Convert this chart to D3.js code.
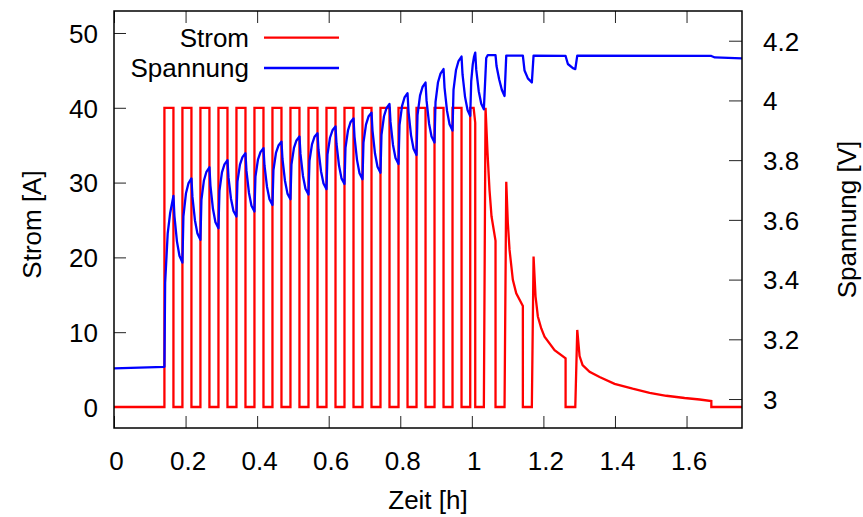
<!DOCTYPE html>
<html lang="de">
<head>
  <meta charset="UTF-8">
  <title>Strom / Spannung</title>
  <script src="https://d3js.org/d3.v7.min.js"></script>
  <style>
    body { margin: 0; background: #fff; }
    text { font-family: "Liberation Sans", Arial, sans-serif; fill: #000; }
  </style>
</head>
<body>
  <script>
    "use strict";
    // --- data ---
    // time in hours, current in A, voltage in V
    const xTicks = [0, 0.2, 0.4, 0.6, 0.8, 1, 1.2, 1.4, 1.6];
    const stromTicks = [0, 10, 20, 30, 40, 50];
    const spannungTicks = [3, 3.2, 3.4, 3.6, 3.8, 4, 4.2];

    // 40 A charge pulses
    const pulseStart = [0.1409, 0.1912, 0.2415, 0.2919, 0.3422, 0.3925, 0.4428, 0.4931, 0.5435,
      0.5938, 0.6441, 0.6944, 0.7447, 0.7951, 0.8454, 0.8957, 0.9460];
    const pulseEnd = [0.1661, 0.2164, 0.2667, 0.3171, 0.3674, 0.4177, 0.4680, 0.5183, 0.5687,
      0.6190, 0.6693, 0.7196, 0.7699, 0.8203, 0.8706, 0.9209, 0.9712];
    const pulseCurrent = 40;

    // rest of the current curve (constant voltage phase)
    const stromTail = [
      [0.9955, 0], [0.9955, 40], [1.0050, 40], [1.0095, 38], [1.0095, 0], [1.0336, 0],
      [1.0383, 40], [1.0438, 34], [1.0494, 29], [1.0550, 25.5], [1.0662, 22.2], [1.0662, 0],
      [1.0914, 0], [1.0962, 30.1], [1.1006, 24.6], [1.1054, 21], [1.1146, 17], [1.1241, 15.2],
      [1.1426, 13.5], [1.1426, 0], [1.1677, 0], [1.1725, 20.1], [1.1780, 14.8], [1.1845, 12.1],
      [1.1940, 10.5], [1.2032, 9.4], [1.2312, 7.6], [1.2620, 6.5], [1.2620, 0], [1.2891, 0],
      [1.2946, 10.3], [1.3011, 6.8], [1.3095, 5.6], [1.3290, 4.7], [1.3570, 4.0], [1.3989, 3.1],
      [1.4493, 2.45], [1.4968, 1.9], [1.5435, 1.5], [1.5946, 1.2], [1.6366, 1.0], [1.6693, 0.8],
      [1.6693, 0], [1.755, 0]
    ];

    const spannung = [
      [0, 3.103], [0.1409, 3.108],
      [0.1429, 3.389], [0.1501, 3.555], [0.1568, 3.622], [0.1661, 3.680],
      [0.1689, 3.613], [0.1759, 3.528], [0.1829, 3.480],
      [0.1912, 3.457], [0.1940, 3.612], [0.2010, 3.688], [0.2080, 3.722], [0.2164, 3.739],
      [0.2192, 3.677], [0.2262, 3.599], [0.2332, 3.554],
      [0.2415, 3.533], [0.2443, 3.667], [0.2513, 3.732], [0.2583, 3.761], [0.2667, 3.776],
      [0.2695, 3.715], [0.2765, 3.637], [0.2835, 3.592],
      [0.2919, 3.572], [0.2947, 3.697], [0.3017, 3.759], [0.3087, 3.786], [0.3171, 3.800],
      [0.3199, 3.743], [0.3269, 3.671], [0.3339, 3.630],
      [0.3422, 3.611], [0.3450, 3.728], [0.3520, 3.785], [0.3590, 3.810], [0.3674, 3.823],
      [0.3702, 3.764], [0.3772, 3.690], [0.3842, 3.647],
      [0.3925, 3.628], [0.3953, 3.745], [0.4023, 3.802], [0.4093, 3.827], [0.4177, 3.840],
      [0.4205, 3.783], [0.4275, 3.711], [0.4345, 3.669],
      [0.4428, 3.650], [0.4456, 3.767], [0.4526, 3.824], [0.4596, 3.849], [0.4680, 3.862],
      [0.4708, 3.804], [0.4778, 3.731], [0.4848, 3.688],
      [0.4931, 3.669], [0.4959, 3.785], [0.5029, 3.841], [0.5099, 3.866], [0.5183, 3.879],
      [0.5211, 3.821], [0.5281, 3.747], [0.5351, 3.704],
      [0.5435, 3.685], [0.5463, 3.798], [0.5533, 3.853], [0.5603, 3.878], [0.5687, 3.890],
      [0.5715, 3.834], [0.5785, 3.763], [0.5855, 3.722],
      [0.5938, 3.703], [0.5966, 3.819], [0.6036, 3.875], [0.6106, 3.900], [0.6190, 3.913],
      [0.6218, 3.855], [0.6288, 3.782], [0.6358, 3.739],
      [0.6441, 3.720], [0.6469, 3.841], [0.6539, 3.900], [0.6609, 3.927], [0.6693, 3.940],
      [0.6721, 3.879], [0.6791, 3.801], [0.6861, 3.756],
      [0.6944, 3.736], [0.6972, 3.859], [0.7042, 3.919], [0.7112, 3.946], [0.7196, 3.959],
      [0.7224, 3.899], [0.7294, 3.822], [0.7364, 3.778],
      [0.7447, 3.758], [0.7475, 3.885], [0.7545, 3.947], [0.7615, 3.974], [0.7699, 3.988],
      [0.7727, 3.928], [0.7797, 3.851], [0.7867, 3.807],
      [0.7951, 3.787], [0.7979, 3.917], [0.8049, 3.981], [0.8119, 4.010], [0.8203, 4.024],
      [0.8231, 3.962], [0.8301, 3.883], [0.8371, 3.838],
      [0.8454, 3.817], [0.8482, 3.951], [0.8552, 4.016], [0.8622, 4.045], [0.8706, 4.060],
      [0.8734, 4.000], [0.8804, 3.923], [0.8874, 3.879],
      [0.8957, 3.859], [0.8985, 3.994], [0.9055, 4.061], [0.9125, 4.090], [0.9209, 4.105],
      [0.9237, 4.043], [0.9307, 3.965], [0.9377, 3.920],
      [0.9460, 3.899], [0.9488, 4.035], [0.9558, 4.102], [0.9628, 4.132], [0.9712, 4.147],
      [0.9740, 4.087], [0.9810, 4.012], [0.9880, 3.968],
      [0.9955, 3.948], [0.9983, 4.065], [1.0025, 4.120], [1.0060, 4.146], [1.0095, 4.160],
      [1.0123, 4.103], [1.0193, 4.031], [1.0263, 3.989],
      [1.0336, 3.970], [1.0402, 4.142], [1.0447, 4.152], [1.0662, 4.152],
      [1.0690, 4.115], [1.0765, 4.070], [1.0840, 4.035], [1.0914, 4.015],
      [1.0962, 4.150], [1.1426, 4.150],
      [1.1473, 4.100], [1.1566, 4.074], [1.1677, 4.060],
      [1.1725, 4.150], [1.2620, 4.149],
      [1.2684, 4.122], [1.2824, 4.108], [1.2891, 4.105],
      [1.2946, 4.150], [1.6693, 4.149], [1.6790, 4.144], [1.755, 4.141]
    ];

    // build the current curve: flat 0, then the pulses, then the tail
    var strom = [[0, 0]];
    pulseStart.forEach(function (s, i) {
      strom.push([s, 0], [s, pulseCurrent], [pulseEnd[i], pulseCurrent], [pulseEnd[i], 0]);
    });
    strom = strom.concat(stromTail);

    // --- layout ---
    var width = 863, height = 517;
    var plot = { left: 114, right: 742, top: 11, bottom: 428 };
    var fontSize = 26;

    var svg = d3.select('body').append('svg')
      .attr('width', width)
      .attr('height', height);

    svg.append('rect')
      .attr('width', width).attr('height', height)
      .attr('fill', '#fff');

    var x = d3.scaleLinear().domain([0, 1.755]).range([plot.left, plot.right]);
    var yL = d3.scaleLinear().domain([-2.81, 52.94]).range([plot.bottom, plot.top]);
    var yR = d3.scaleLinear().domain([2.903, 4.2995]).range([plot.bottom, plot.top]);

    var fmt = function (d) { return String(+d.toFixed(1)); };

    // axes, gnuplot style: ticks pointing inward
    var gx = svg.append('g')
      .attr('transform', 'translate(0,' + plot.bottom + ')')
      .call(d3.axisBottom(x).tickValues(xTicks).tickFormat(fmt).tickSize(-12).tickPadding(24));
    svg.append('g')
      .attr('transform', 'translate(0,' + plot.top + ')')
      .call(d3.axisTop(x).tickValues(xTicks).tickFormat('').tickSize(-12));
    var gl = svg.append('g')
      .attr('transform', 'translate(' + plot.left + ',0)')
      .call(d3.axisLeft(yL).tickValues(stromTicks).tickFormat(fmt).tickSize(-12).tickPadding(16));
    var gr = svg.append('g')
      .attr('transform', 'translate(' + plot.right + ',0)')
      .call(d3.axisRight(yR).tickValues(spannungTicks).tickFormat(fmt).tickSize(-13).tickPadding(21));

    svg.selectAll('.domain').remove();
    svg.selectAll('.tick line').attr('stroke', '#222').attr('stroke-width', 1);
    svg.selectAll('.tick text')
      .attr('font-family', '"Liberation Sans", Arial, sans-serif')
      .attr('font-size', fontSize)
      .attr('fill', '#000');
    gx.selectAll('.tick text').attr('dy', '0.71em').attr('dx', 2);
    gl.selectAll('.tick text').attr('dy', '0.36em');
    gr.selectAll('.tick text').attr('dy', '0.36em');

    // curves
    svg.append('clipPath').attr('id', 'clip')
      .append('rect')
      .attr('x', plot.left).attr('y', plot.top)
      .attr('width', plot.right - plot.left).attr('height', plot.bottom - plot.top);

    var lineStrom = d3.line()
      .x(function (d) { return x(d[0]); })
      .y(function (d) { return yL(d[1]); });
    var lineSpannung = d3.line()
      .x(function (d) { return x(d[0]); })
      .y(function (d) { return yR(d[1]); });

    svg.append('path')
      .datum(strom)
      .attr('clip-path', 'url(#clip)')
      .attr('fill', 'none')
      .attr('stroke', '#ff0000')
      .attr('stroke-width', 2.3)
      .attr('stroke-linejoin', 'miter')
      .attr('d', lineStrom);

    svg.append('path')
      .datum(spannung)
      .attr('clip-path', 'url(#clip)')
      .attr('fill', 'none')
      .attr('stroke', '#0000ff')
      .attr('stroke-width', 2.3)
      .attr('stroke-linejoin', 'round')
      .attr('d', lineSpannung);

    // border
    svg.append('rect')
      .attr('x', plot.left).attr('y', plot.top)
      .attr('width', plot.right - plot.left).attr('height', plot.bottom - plot.top)
      .attr('fill', 'none')
      .attr('stroke', '#000')
      .attr('stroke-width', 1.5);

    // legend
    var legend = [
      { label: 'Strom', color: '#ff0000', y: 37.7 },
      { label: 'Spannung', color: '#0000ff', y: 68 }
    ];
    var lg = svg.append('g');
    lg.selectAll('text')
      .data(legend)
      .enter().append('text')
      .attr('x', 249)
      .attr('y', function (d) { return d.y + 9; })
      .attr('text-anchor', 'end')
      .attr('font-size', fontSize)
      .text(function (d) { return d.label; });
    lg.selectAll('line')
      .data(legend)
      .enter().append('line')
      .attr('x1', 264).attr('x2', 339)
      .attr('y1', function (d) { return d.y; })
      .attr('y2', function (d) { return d.y; })
      .attr('stroke', function (d) { return d.color; })
      .attr('stroke-width', 2.3);

    // axis titles
    svg.append('text')
      .attr('transform', 'translate(41,' + ((plot.top + plot.bottom) / 2 + 5) + ') rotate(-90)')
      .attr('text-anchor', 'middle')
      .attr('font-size', fontSize)
      .text('Strom [A]');
    svg.append('text')
      .attr('transform', 'translate(856,' + ((plot.top + plot.bottom) / 2) + ') rotate(-90)')
      .attr('text-anchor', 'middle')
      .attr('font-size', fontSize)
      .text('Spannung [V]');
    svg.append('text')
      .attr('x', (plot.left + plot.right) / 2)
      .attr('y', 509)
      .attr('text-anchor', 'middle')
      .attr('font-size', fontSize)
      .text('Zeit [h]');
  </script>
</body>
</html>
